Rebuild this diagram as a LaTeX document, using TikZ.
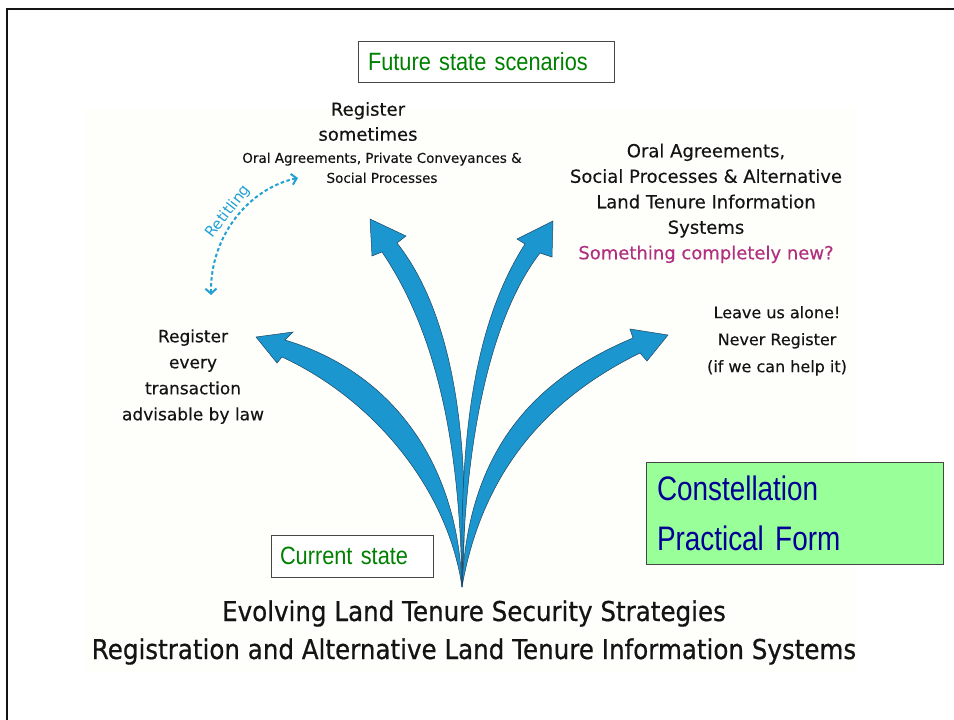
\documentclass[tikz,border=0pt]{standalone}
\usepackage{fontspec}
\setmainfont{DejaVu Sans}
\newfontfamily\boxfont[FakeStretch=0.87]{Liberation Sans}
\newfontfamily\constfont[FakeStretch=0.82]{Liberation Sans}
\newfontfamily\titlefont[FakeStretch=0.9,FakeBold=0.6]{DejaVu Sans}
\newfontfamily\bodyfont[FakeBold=0.3]{DejaVu Sans}
\usetikzlibrary{arrows.meta}
\definecolor{cream}{RGB}{254,254,250}
\definecolor{framecol}{RGB}{20,20,20}
\definecolor{boxedge}{RGB}{70,70,70}
\definecolor{futuregreen}{RGB}{0,128,0}
\definecolor{lightgreen}{RGB}{153,255,153}
\definecolor{navyblue}{RGB}{0,0,150}
\definecolor{arrowblue}{RGB}{27,150,206}
\definecolor{arrowedge}{RGB}{30,70,100}
\definecolor{retitblue}{RGB}{35,160,212}
\definecolor{newmag}{RGB}{176,48,127}
\definecolor{bodytext}{RGB}{20,20,20}
\tikzset{
  boxstyle/.style={draw=boxedge, line width=0.8pt, fill=white, inner sep=0pt, align=left,
    font=\boxfont\fontsize{25}{30}\selectfont, text=futuregreen},
  bigarrow/.style={fill=arrowblue, draw=arrowedge, line width=0.5pt, line join=miter},
  lbl/.style={align=center, inner sep=0pt, text=bodytext},
  titlestyle/.style={anchor=base, inner sep=0pt, text=bodytext, font=\titlefont\fontsize{27.3}{30}\selectfont},
  retit/.style={draw=retitblue, line width=2pt, dash pattern=on 3.5pt off 2.5pt}
}
\begin{document}
\begin{tikzpicture}[x=1pt,y=-1pt]
\useasboundingbox (0,0) rectangle (954,720);
\fill[white] (0,0) rectangle (954,720);
\fill[cream] (85,108) rectangle (855,672);
\draw[line width=2.2pt, framecol] (7,722) -- (7,9.3) -- (956,9.3);

% common root of the five arrows
\coordinate (root) at (462,587);

% arrow A: register every transaction
\draw[bigarrow] (root) .. controls (448,490) and (375,400) .. (282,357) -- (277,363) -- (256,337)
  -- (293,332) -- (285,340) .. controls (392,372) and (458,463) .. (root) -- cycle;
% arrow B: register sometimes
\draw[bigarrow] (root) .. controls (460,470) and (445,345) .. (382,252) -- (372,256) -- (370,219)
  -- (406,236) -- (397,243) .. controls (450,310) and (472,430) .. (root) -- cycle;
% arrow C: something completely new
\draw[bigarrow] (root) .. controls (460,450) and (470,330) .. (525,244) -- (517,239) -- (553,221)
  -- (552,257) -- (540,253) .. controls (490,318) and (465,440) .. (root) -- cycle;
% arrow D: leave us alone
\draw[bigarrow] (root) .. controls (485,455) and (565,390) .. (640,353) -- (647,361) -- (668,335)
  -- (630,329) -- (633,338) .. controls (545,375) and (468,440) .. (root) -- cycle;

% retitling arrow
\coordinate (rtA) at (211,295);
\coordinate (rtB) at (298,178);
\draw[retit, {Straight Barb[length=5pt,width=11pt]}-{Straight Barb[length=5pt,width=11pt]}]
  (rtA) .. controls (210,235) and (250,188) .. (rtB)
  node[pos=0.5, sloped, above, inner sep=1.5pt, text=retitblue, font=\fontsize{15}{15}\selectfont] (retlbl) {Retitling};

% boxes
\node[boxstyle, minimum width=256pt, minimum height=41pt, text width=236pt] (future) at (486,61.5) {Future state scenarios};
\node[boxstyle, minimum width=162pt, minimum height=42pt, text width=144pt] (current) at (352,556) {Current state};
\node[boxstyle, fill=lightgreen, minimum width=297pt, minimum height=102pt, text width=275pt,
  font=\constfont\fontsize{34}{50}\selectfont, text=navyblue] (const) at (794.5,513) {Constellation\\Practical Form};

% labels
\node[lbl, font=\bodyfont\fontsize{18}{25}\selectfont] (regsome) at (368,121.5) {Register\\sometimes};
\node[lbl, font=\bodyfont\fontsize{13.5}{20}\selectfont] (regsub) at (382,167.8) {Oral Agreements, Private Conveyances \&\\Social Processes};
\node[lbl, font=\bodyfont\fontsize{18}{25.5}\selectfont] (oral) at (706,203.3) {Oral Agreements,\\Social Processes \& Alternative\\Land Tenure Information\\Systems\\\textcolor{newmag}{Something completely new?}};
\node[lbl, font=\bodyfont\fontsize{16}{27}\selectfont] (leave) at (777,340.8) {Leave us alone!\\Never Register\\(if we can help it)};
\node[lbl, font=\bodyfont\fontsize{17}{26}\selectfont] (regevery) at (193,376.6) {Register\\every\\transaction\\advisable by law};

% titles
\node[titlestyle] (title1) at (474,621) {Evolving Land Tenure Security Strategies};
\node[titlestyle] (title2) at (474,659) {Registration and Alternative Land Tenure Information Systems};
\end{tikzpicture}
\end{document}
